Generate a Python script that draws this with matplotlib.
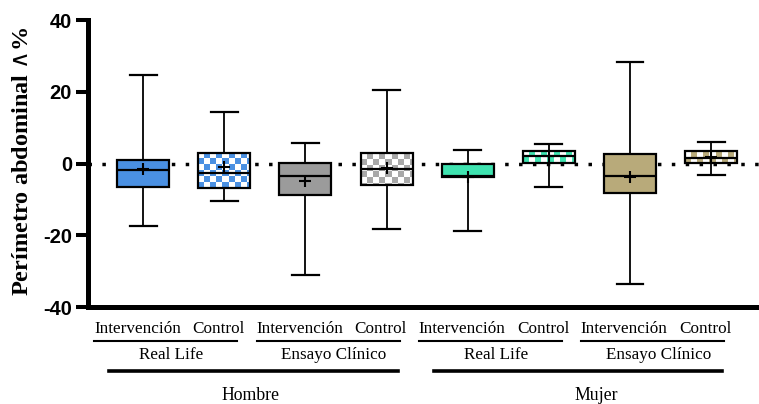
import numpy as np
import matplotlib
matplotlib.use("Agg")
import matplotlib.pyplot as plt
import matplotlib.transforms as mtransforms
from matplotlib.colors import ListedColormap
from matplotlib.lines import Line2D

plt.rcParams["axes.unicode_minus"] = False
plt.rcParams["mathtext.fontset"] = "dejavuserif"

# Perímetro abdominal: change (%) by sex, study setting and arm
sexes = ["Hombre", "Mujer"]
settings = ["Real Life", "Ensayo Clínico"]
arms = ["Intervención", "Control"]

whislo = [-17.4, -10.5, -31.2, -18.2, -18.7, -6.6, -33.6, -3.3]
q1 = [-6.5, -6.8, -8.7, -6.0, -3.8, 0.3, -8.3, 0.05]
med = [-1.8, -2.7, -3.5, -1.6, -3.4, 2.1, -3.4, 1.6]
q3 = [0.9, 3.1, 0.3, 2.9, -0.1, 3.6, 2.8, 3.5]
whishi = [24.8, 14.3, 5.7, 20.5, 3.8, 5.4, 28.3, 6.0]
means = [-1.5, -0.9, -4.8, -1.3, -3.6, 2.1, -3.8, 1.8]

colors = ["#4a90e2", "#4a90e2", "#9b9b9b", "#a8a8a8",
          "#3fe3b0", "#3fe3b0", "#b8aa7a", "#b8aa7a"]
checkered = [False, True, False, True, False, True, False, True]

yticks = [-40, -20, 0, 20, 40]

fig = plt.figure(figsize=(7.59, 4.04), dpi=100)
ax = fig.add_axes([0.1159, 0.240, 0.8841, 0.710])

positions = np.arange(len(med))
stats = []
for i in positions:
    stats.append(dict(med=med[i], q1=q1[i], q3=q3[i], whislo=whislo[i],
                      whishi=whishi[i], mean=means[i], fliers=[]))

bp = ax.bxp(stats, positions=positions, widths=0.64, capwidths=0.33,
            patch_artist=True, showmeans=True, showfliers=False,
            boxprops=dict(edgecolor="black", linewidth=1.6),
            medianprops=dict(color="black", linewidth=1.6),
            whiskerprops=dict(color="black", linewidth=1.3),
            capprops=dict(color="black", linewidth=1.6),
            meanprops=dict(marker="+", markersize=9, markeredgecolor="black",
                           markeredgewidth=1.5))

# checkerboard fill for the control arms
cell_x, cell_y = 0.075, 1.65
for i, box in enumerate(bp["boxes"]):
    if checkered[i]:
        x0 = positions[i] - 0.32
        nx = int(np.ceil(0.64 / cell_x))
        ny = int(np.ceil((q3[i] - q1[i]) / cell_y))
        arr = np.add.outer(np.arange(ny), np.arange(nx)) % 2
        im = ax.imshow(arr, cmap=ListedColormap(["white", colors[i]]),
                       extent=[x0, x0 + nx * cell_x, q3[i] - ny * cell_y, q3[i]],
                       origin="upper", interpolation="nearest", aspect="auto",
                       zorder=1.95)
        im.set_clip_path(box)
        box.set_facecolor("none")
    else:
        box.set_facecolor(colors[i])

ax.axhline(0, color="black", linestyle=(0, (1, 3)), linewidth=2.5, zorder=1)

ax.set_xlim(-0.68, 7.59)
ax.set_ylim(-40, 40)
ax.set_yticks(yticks)
ax.set_xticks([])
for s in ["top", "right"]:
    ax.spines[s].set_visible(False)
for s in ["left", "bottom"]:
    ax.spines[s].set_linewidth(3.6)
ax.tick_params(axis="y", length=8.5, width=2.9, pad=3)
for lab in ax.get_yticklabels():
    lab.set_fontfamily("Liberation Sans")
    lab.set_fontweight("bold")
    lab.set_fontsize(14.5)

fig.text(0.030, 0.600, r"Perímetro abdominal $\wedge$%", rotation=90,
         ha="center", va="center", fontsize=17.5, fontweight="bold",
         family=["Liberation Serif", "DejaVu Serif"])

# grouped category labels underneath the axis
trans = mtransforms.blended_transform_factory(ax.transData, fig.transFigure)
serif = ["Liberation Serif", "DejaVu Serif"]
for g in range(4):
    pc = 2 * g + 0.5
    for k, arm in enumerate(arms):
        ax.text(2 * g + k - 0.07, 0.186, arm, transform=trans, ha="center",
                va="center", fontsize=12.3, family=serif, clip_on=False)
    ax.add_line(Line2D([pc - 1.10, pc + 0.66], [0.156, 0.156], transform=trans,
                       color="black", linewidth=1.5, clip_on=False))
    ax.text(pc - 0.15, 0.121, settings[g % 2], transform=trans, ha="center",
            va="center", fontsize=12.3, family=serif, clip_on=False)

sex_offsets = [-0.18, 0.09]
for s, sex in enumerate(sexes):
    gc = 4 * s + 1.5
    ax.add_line(Line2D([gc - 1.92, gc + 1.64], [0.0824, 0.0824], transform=trans,
                       color="black", linewidth=2.6, clip_on=False))
    ax.text(gc + sex_offsets[s], 0.022, sex, transform=trans, ha="center",
            va="center", fontsize=12.8, family=serif, clip_on=False)

fig.savefig("out.png", dpi=100)
